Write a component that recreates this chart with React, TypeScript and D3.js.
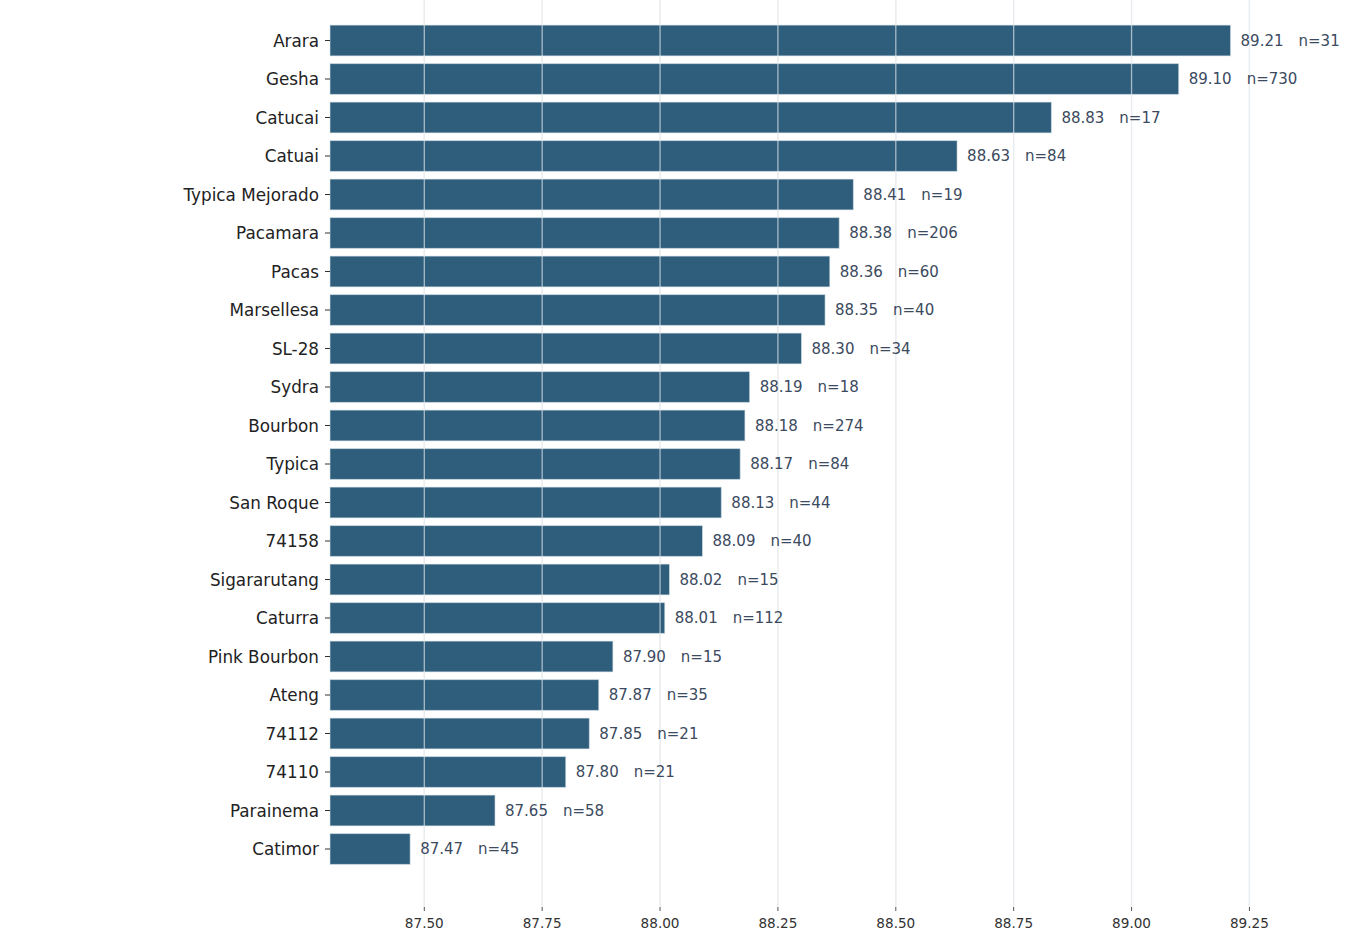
import React from "react";
import * as d3 from "d3";

const varieties = ["Arara","Gesha","Catucai","Catuai","Typica Mejorado","Pacamara","Pacas","Marsellesa","SL-28","Sydra","Bourbon","Typica","San Roque","74158","Sigararutang","Caturra","Pink Bourbon","Ateng","74112","74110","Parainema","Catimor"];
const scores = [89.21,89.10,88.83,88.63,88.41,88.38,88.36,88.35,88.30,88.19,88.18,88.17,88.13,88.09,88.02,88.01,87.90,87.87,87.85,87.80,87.65,87.47];
const counts = [31,730,17,84,19,206,60,40,34,18,274,84,44,40,15,112,15,35,21,21,58,45];
const xTicks = [87.5,87.75,88.0,88.25,88.5,88.75,89.0,89.25];

const W = 1349, H = 940;
const FONT = "'DejaVu Sans', sans-serif";

export default function App() {
  const x = d3.scaleLinear().domain([87.3, 89.35]).range([330, 330 + 2.05 * 471.5]);
  const y = d3.scaleBand<string>().domain(varieties).range([21.25, 868.25]).paddingInner(0.2).paddingOuter(0.1);
  const plotBottom = 907;
  const x0 = x(87.3);
  return (
    <svg width={W} height={H} style={{ position: "absolute", left: 0, top: 0, background: "#fff" }} fontFamily={FONT}>
      <rect x={0} y={0} width={W} height={H} fill="#fff" />
      {xTicks.map((t) => (
        <line key={"g" + t} x1={x(t)} x2={x(t)} y1={0} y2={plotBottom} stroke="#e9ecf0" strokeWidth={1.3} />
      ))}
      {varieties.map((v, i) => (
        <rect key={v} x={x0} y={y(v)!} width={x(scores[i]) - x0} height={y.bandwidth()} fill="#2e5e7c" stroke="#dbe4ea" strokeOpacity={0.6} strokeWidth={1} />
      ))}
      {xTicks.map((t) => (
        <line key={"go" + t} x1={x(t)} x2={x(t)} y1={0} y2={plotBottom} stroke="#e9ecf0" strokeOpacity={0.65} strokeWidth={1.3} />
      ))}
      {varieties.map((v, i) => {
        const cy = y(v)! + y.bandwidth() / 2;
        return (
          <g key={"l" + v}>
            <line x1={x0 - 5} x2={x0} y1={cy} y2={cy} stroke="#333" strokeWidth={1} />
            <text x={x0 - 11} y={cy} dy="0.36em" textAnchor="end" fontSize={16.8} fill="#222">{v}</text>
            <text x={x(scores[i]) + 10} y={cy} dy="0.36em" fontSize={15} fill="#3b4a5e">
              {scores[i].toFixed(2)}
              <tspan dx={15}>{"n=" + counts[i]}</tspan>
            </text>
          </g>
        );
      })}
      {xTicks.map((t) => (
        <g key={"t" + t}>
          <line x1={x(t)} x2={x(t)} y1={plotBottom} y2={plotBottom + 4} stroke="#555" strokeWidth={1} />
          <text x={x(t)} y={plotBottom + 21} textAnchor="middle" fontSize={13.6} fill="#333">{t.toFixed(2)}</text>
        </g>
      ))}
    </svg>
  );
}
